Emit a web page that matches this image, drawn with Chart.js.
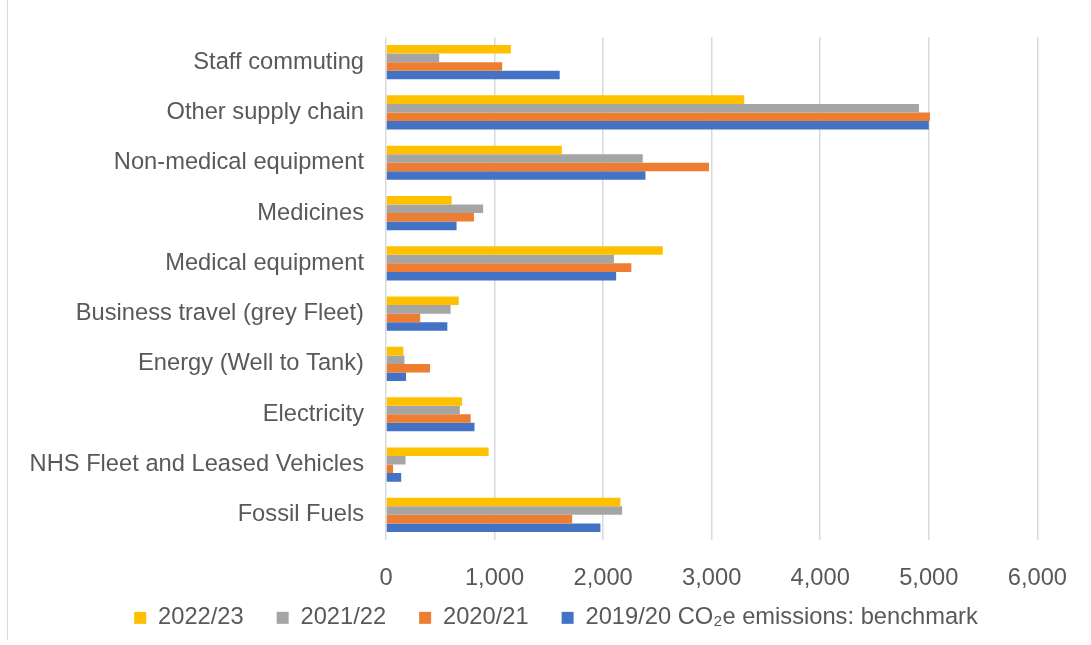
<!DOCTYPE html>
<html>
<head>
<meta charset="utf-8">
<script src="https://cdn.jsdelivr.net/npm/chart.js@4/dist/chart.umd.min.js"></script>
<style>
  body { margin: 0; background: #fff; }
  #wrap { position: relative; width: 1091px; height: 645px; }
  #edge { position: absolute; left: 7px; top: 0; height: 640px; border-left: 1px solid #d9d9d9; }
</style>
</head>
<body>
<div id="wrap">
  <div id="edge"></div>
  <canvas id="emissionsChart" width="1091" height="645"></canvas>
</div>
<script>
// categories, top to bottom
const categories = ['Staff commuting', 'Other supply chain', 'Non-medical equipment', 'Medicines', 'Medical equipment',
    'Business travel (grey Fleet)', 'Energy (Well to Tank)', 'Electricity', 'NHS Fleet and Leased Vehicles', 'Fossil Fuels'];

const seriesNames = ['2022/23', '2021/22', '2020/21', '2019/20 CO\u2082e emissions: benchmark'];

const values2022 = [1150, 3300, 1620, 605, 2550, 670, 160, 700, 945, 2160];
const values2021 = [490, 4910, 2365, 895, 2100, 595, 170, 680, 180, 2175];
const values2020 = [1070, 5010, 2975, 810, 2260, 315, 405, 780, 65, 1715];
const values2019 = [1600, 5000, 2390, 650, 2120, 565, 185, 815, 140, 1975];

const xTicks = [0, 1000, 2000, 3000, 4000, 5000, 6000];

const textColor = '#595959';
const fontFamily = '"Liberation Sans", Arial, sans-serif';
const fontSize = 23.7;

// legend sits closer to the axis labels than chart.js would put it
const legendNudge = {
    id: 'legendNudge',
    afterLayout(chart) {
        const lg = chart.legend;
        lg.top -= 19;
        lg.left += 36;
        lg.right += 36;
    }
};

const ctx = document.getElementById('emissionsChart').getContext('2d');
const chart = new Chart(ctx, {
    type: 'bar',
    data: {
        labels: categories,
        datasets: [
            { label: seriesNames[0], data: values2022, backgroundColor: '#FFC000' },
            { label: seriesNames[1], data: values2021, backgroundColor: '#A5A5A5' },
            { label: seriesNames[2], data: values2020, backgroundColor: '#ED7D31' },
            { label: seriesNames[3], data: values2019, backgroundColor: '#4472C4' }
        ]
    },
    options: {
        indexAxis: 'y',
        responsive: false,
        animation: false,
        devicePixelRatio: 1,
        categoryPercentage: 0.68,
        barPercentage: 1.0,
        layout: {
            padding: { top: 37, left: 0, right: 51, bottom: 6 }
        },
        scales: {
            x: {
                min: xTicks[0],
                max: xTicks[xTicks.length - 1],
                afterBuildTicks: (scale) => {
                    scale.ticks = xTicks.map(v => ({ value: v }));
                },
                afterFit: (scale) => { scale.height = 52; },
                grid: { color: '#d9d9d9', lineWidth: 1.5, drawTicks: false },
                border: { display: false },
                ticks: {
                    padding: 24,
                    color: textColor,
                    font: { family: fontFamily, size: fontSize },
                    callback: (v) => v.toLocaleString('en-US')
                }
            },
            y: {
                afterFit: (scale) => { scale.width = 386; },
                grid: { display: false, drawTicks: false },
                border: { display: false },
                ticks: {
                    padding: 22,
                    color: textColor,
                    font: { family: fontFamily, size: fontSize }
                }
            }
        },
        plugins: {
            legend: {
                position: 'bottom',
                maxHeight: 47,
                labels: {
                    boxWidth: 12,
                    boxHeight: 12,
                    padding: 33,
                    color: textColor,
                    font: { family: fontFamily, size: fontSize }
                }
            },
            tooltip: { enabled: false }
        }
    },
    plugins: [legendNudge]
});
</script>
</body>
</html>
